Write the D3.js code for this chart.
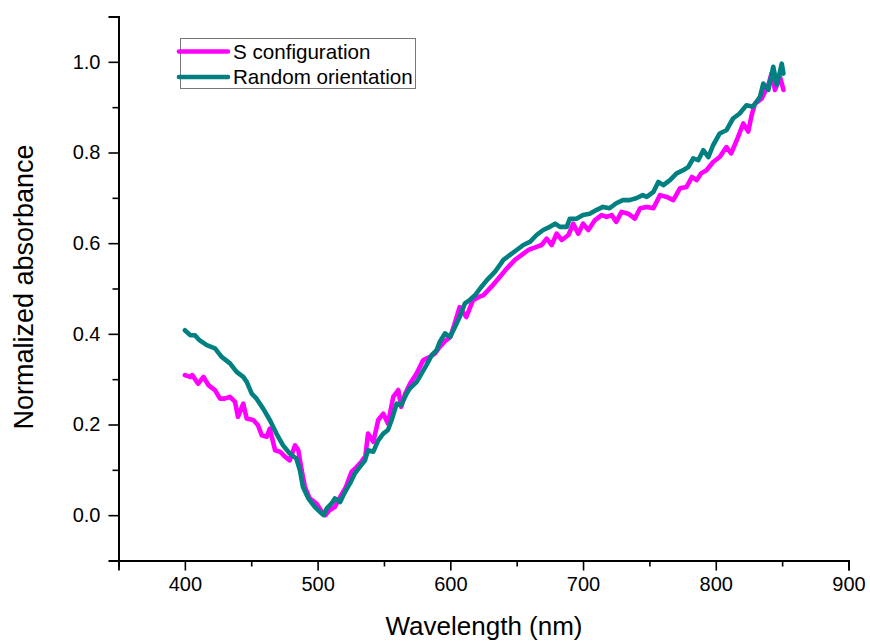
<!DOCTYPE html>
<html>
<head>
<meta charset="utf-8">
<script src="https://cdn.jsdelivr.net/npm/d3@7"></script>
<style>
  html, body { margin: 0; padding: 0; background: #fff; }
  svg { display: block; font-family: "Liberation Sans", Arial, sans-serif; }
</style>
</head>
<body>
<svg id="chart" width="870" height="642"></svg>
<script>
// ---- data ----
const seriesNames = ["S configuration", "Random orientation"];
const xTickValues = [400, 500, 600, 700, 800, 900];
const yTickValues = [0.0, 0.2, 0.4, 0.6, 0.8, 1.0];

const wlS = [400,404,405.6,410,414,417.7,422.7,426.5,430,434,437.8,440,444,446.6,451.5,455,458,461.7,464,468,471.7,475.4,479,483,485.5,488,490.5,494,499,504,506,509,513,517,521,525.7,529,533,536,538,542,545.7,549.5,553,557,560.8,563,566,569.6,574.7,579.6,584.7,588.5,592,596,600,603,607,612,617,622,624.8,631,637.4,642.5,648.7,653.8,658.8,665,668.8,672.6,676.4,680.1,684,689,692.6,696.4,700,704,709,714,717.8,721.6,725,729,734,739,743,748,753,758,763,768,773,778,782,785.6,789,793,798,803,808,811.6,815.8,820.7,824.5,827,829.5,834.6,839.6,842,844.6,848.5,851];
const absS = [0.309,0.305,0.309,0.290,0.305,0.287,0.276,0.257,0.257,0.261,0.250,0.217,0.246,0.213,0.210,0.199,0.176,0.173,0.191,0.143,0.140,0.129,0.121,0.154,0.143,0.099,0.062,0.037,0.026,0.004,0.000,0.011,0.018,0.040,0.060,0.096,0.105,0.118,0.130,0.180,0.162,0.210,0.224,0.202,0.261,0.276,0.239,0.268,0.290,0.313,0.342,0.349,0.357,0.371,0.384,0.393,0.420,0.459,0.437,0.474,0.482,0.485,0.504,0.526,0.544,0.563,0.574,0.585,0.592,0.596,0.610,0.596,0.621,0.607,0.618,0.643,0.621,0.643,0.629,0.651,0.662,0.658,0.662,0.647,0.669,0.665,0.654,0.677,0.680,0.677,0.706,0.702,0.695,0.721,0.724,0.746,0.739,0.754,0.761,0.779,0.790,0.812,0.798,0.827,0.864,0.846,0.882,0.908,0.919,0.949,0.974,0.938,0.966,0.938];

const wlR = [400,404,407.6,411,416.5,422.7,427.7,434,439,444,446.6,450.4,454,459,464,469,474,479,484,486.7,489,493,498,503,504.5,507,510.6,513,517,520.6,524.4,528,532,535.7,538,542,545.7,549.5,553,555.8,559.6,563,567,569.6,574.7,578.4,582,586,589.7,592,596,599.8,603.5,607,611,614.8,618.6,622.4,627.4,633.7,640,645,650,655,660,665,670,675,679,682.6,687.7,690,695,700,705,710,715,720,725,730,735,740,745,748,753,756.7,760.5,765.5,770.5,775.5,779.3,783,786.8,790.6,794.4,798,803,808,813,818,823,828,833.3,835.8,839.6,843.3,846,849.7,851];
const absR = [0.408,0.397,0.397,0.386,0.375,0.368,0.349,0.335,0.316,0.305,0.294,0.268,0.257,0.235,0.210,0.180,0.154,0.136,0.125,0.099,0.062,0.037,0.018,0.004,0.000,0.015,0.026,0.037,0.029,0.051,0.070,0.092,0.107,0.121,0.143,0.140,0.165,0.180,0.188,0.210,0.246,0.243,0.268,0.280,0.294,0.313,0.331,0.353,0.364,0.382,0.401,0.393,0.415,0.437,0.467,0.475,0.485,0.500,0.518,0.537,0.563,0.574,0.585,0.596,0.603,0.618,0.629,0.636,0.643,0.636,0.636,0.654,0.654,0.662,0.665,0.673,0.680,0.677,0.688,0.695,0.695,0.699,0.706,0.702,0.713,0.735,0.728,0.739,0.754,0.761,0.768,0.787,0.783,0.805,0.790,0.816,0.842,0.849,0.875,0.886,0.904,0.901,0.923,0.952,0.938,0.989,0.949,0.996,0.974];

const colors = ["#ff00ff", "#008080"];

// ---- layout ----
const svg = d3.select("#chart");
const x = d3.scaleLinear().domain([350, 900]).range([118.5, 848.5]);
const y = d3.scaleLinear().domain([-0.1, 1.1]).range([560.5, 16.5]);

const series = [
  wlS.map((w, i) => ({w, v: absS[i]})),
  wlR.map((w, i) => ({w, v: absR[i]}))
];

const line = d3.line().x(d => x(d.w)).y(d => y(d.v));

// curves
series.forEach((s, i) => {
  svg.append("path")
    .datum(s)
    .attr("fill", "none")
    .attr("stroke", colors[i])
    .attr("stroke-width", 4.6)
    .attr("stroke-linejoin", "round")
    .attr("stroke-linecap", "round")
    .attr("d", line);
});

// minor ticks
const xMinor = d3.range(350, 901, 50).filter(v => !xTickValues.includes(v));
const yMinor = d3.range(-1, 12).map(v => v / 10).filter(v => !yTickValues.some(t => Math.abs(t - v) < 1e-9));

const gx = svg.append("g").attr("transform", `translate(0,${y(-0.1)})`);
gx.call(d3.axisBottom(x).tickValues(xMinor).tickSize(6).tickFormat(""));
gx.selectAll(".tick line").attr("stroke-width", 1.6);
const gx2 = svg.append("g").attr("transform", `translate(0,${y(-0.1)})`);
gx2.call(d3.axisBottom(x).tickValues(xTickValues).tickSize(10).tickPadding(6).tickFormat(d3.format("d")));
gx2.selectAll(".tick line").attr("stroke-width", 1.6);
gx2.selectAll("text").attr("font-size", 20).attr("fill", "#000").style("font-family", "'Liberation Sans', Arial, sans-serif");

const gy = svg.append("g").attr("transform", `translate(${x(350)},0)`);
gy.call(d3.axisLeft(y).tickValues(yMinor).tickSize(6).tickFormat(""));
gy.selectAll(".tick line").attr("stroke-width", 1.6);
const gy2 = svg.append("g").attr("transform", `translate(${x(350)},0)`);
gy2.call(d3.axisLeft(y).tickValues(yTickValues).tickSize(10).tickPadding(8).tickFormat(d3.format(".1f")));
gy2.selectAll(".tick line").attr("stroke-width", 1.6);
gy2.selectAll("text").attr("font-size", 20).attr("fill", "#000").style("font-family", "'Liberation Sans', Arial, sans-serif");
[gx, gx2, gy, gy2].forEach(g => g.select(".domain").attr("stroke-width", 1.8));

// axis titles
svg.append("text")
  .attr("x", 484).attr("y", 635)
  .attr("text-anchor", "middle")
  .attr("font-size", 26)
  .text("Wavelength (nm)");

svg.append("text")
  .attr("transform", "translate(33,287) rotate(-90)")
  .attr("text-anchor", "middle")
  .attr("font-size", 27)
  .text("Normalized absorbance");

// legend
const leg = svg.append("g");
leg.append("rect")
  .attr("x", 180.5).attr("y", 38.5).attr("width", 235).attr("height", 50)
  .attr("fill", "#fff").attr("stroke", "#777").attr("stroke-width", 1);
const legY = [51.5, 77];
seriesNames.forEach((n, i) => {
  leg.append("line")
    .attr("x1", 179).attr("x2", 228)
    .attr("y1", legY[i]).attr("y2", legY[i])
    .attr("stroke", colors[i]).attr("stroke-width", 4.6).attr("stroke-linecap", "round");
  leg.append("text")
    .attr("x", 233).attr("y", legY[i] + 7)
    .attr("font-size", 20.6)
    .text(n);
});
</script>
</body>
</html>
